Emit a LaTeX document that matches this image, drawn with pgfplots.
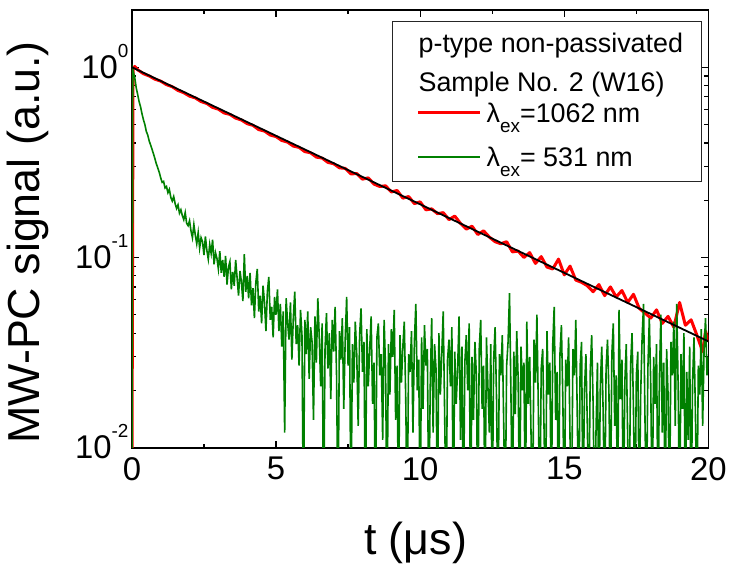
\documentclass[border=0pt]{standalone}
\usepackage{fontspec}
\setmainfont{Liberation Sans}
\usepackage{pgfplots}
\pgfplotsset{compat=1.18}
\definecolor{dgreen}{RGB}{0,128,0}
\newcommand{\tk}{\fontsize{33}{36}\selectfont}
\newcommand{\lgf}{\fontsize{27}{30}\selectfont}
\newcommand{\ds}[1]{10\smash{\raisebox{21bp}{\fontsize{19}{20}\selectfont #1}}}
\newcommand{\exs}{\smash{\raisebox{-10bp}{\fontsize{19}{20}\selectfont ex}}}
\begin{document}
\begin{tikzpicture}
\begin{axis}[
  at={(0,0)}, anchor=south west,
  scale only axis, width=577bp, height=438bp,
  ymode=log, xmin=0, xmax=20, ymin=0.01, ymax=2,
  xtick={0,5,10,15,20}, xticklabels={0,5,10,15,20},
  minor xtick={2.5,7.5,12.5,17.5},
  ytick={0.01,0.1,1}, yticklabels={\ds{-2},\ds{-1},\ds{0}},
  minor ytick={0.02,0.03,0.04,0.05,0.06,0.07,0.08,0.09,0.2,0.3,0.4,0.5,0.6,0.7,0.8,0.9},
  tick align=inside,
  major tick length=7bp, minor tick length=4bp,
  every tick/.style={black, line width=1.2bp},
  axis line style={line width=1.8bp},
  tick label style={font=\tk},
  xticklabel style={yshift=-6bp},
  xlabel={t (μs)}, ylabel={MW-PC signal (a.u.)},
  xlabel style={at={(axis description cs:0.492,-0.217)}, anchor=center, font=\fontsize{45}{50}\selectfont},
  ylabel style={at={(axis description cs:-0.180,0.469)}, anchor=center, font=\fontsize{45}{50}\selectfont},
]
\addplot[red, line width=3bp, line join=round] coordinates {
(0,0.005) (0.04,0.98) (0.1,1.01) (0.2,0.97) (0.4,0.925) (0.6,0.9) (0.8,0.865) (1.0,0.845)
(1.2,0.81) (1.4,0.79) (1.6,0.755) (1.8,0.735) (2.0,0.705) (2.2,0.69) (2.4,0.66) (2.6,0.645)
(2.8,0.615) (3.0,0.602) (3.2,0.575) (3.4,0.565) (3.6,0.54) (3.8,0.528) (4.0,0.505) (4.2,0.495)
(4.4,0.47) (4.6,0.462) (4.8,0.44) (5.0,0.432) (5.2,0.412) (5.4,0.404) (5.6,0.385) (5.8,0.379)
(6.0,0.36) (6.2,0.355) (6.4,0.337) (6.6,0.333) (6.8,0.316) (7.0,0.311) (7.2,0.296) (7.4,0.294)
(7.6,0.275) (7.8,0.276) (8.0,0.258) (8.2,0.262) (8.4,0.243) (8.6,0.236) (8.8,0.238) (9.0,0.221)
(9.2,0.225) (9.4,0.205) (9.6,0.209) (9.8,0.192) (10.0,0.196) (10.2,0.178) (10.4,0.18) (10.6,0.17)
(10.8,0.172) (11.0,0.158) (11.2,0.165) (11.4,0.151) (11.6,0.141) (11.8,0.146) (12.0,0.132) (12.2,0.138)
(12.4,0.128) (12.6,0.121) (12.8,0.118) (13.0,0.121) (13.2,0.107) (13.4,0.108) (13.6,0.1) (13.8,0.106)
(14.0,0.093) (14.2,0.101) (14.4,0.089) (14.6,0.087) (14.8,0.098) (15.0,0.081) (15.2,0.09) (15.4,0.076)
(15.6,0.074) (15.8,0.071) (16.0,0.066) (16.2,0.072) (16.4,0.063) (16.6,0.07) (16.8,0.062) (17.0,0.067)
(17.2,0.058) (17.4,0.064) (17.6,0.054) (17.8,0.051) (18.0,0.048) (18.2,0.053) (18.4,0.045) (18.6,0.049)
(18.8,0.043) (19.0,0.058) (19.2,0.044) (19.4,0.047) (19.6,0.039) (19.8,0.032) (19.9,0.041) (20.0,0.036)
};
\addplot[dgreen, line width=1.6bp] coordinates {
(0,0.005) (0.03,0.97) (0.06,0.93) (0.1,0.88) (0.15,0.78) (0.2,0.72) (0.25,0.66) (0.3,0.62)
(0.35,0.57) (0.4,0.53) (0.45,0.5) (0.5,0.46) (0.55,0.44) (0.6,0.41) (0.65,0.39) (0.7,0.37)
(0.75,0.35) (0.8,0.33) (0.85,0.31) (0.9,0.295) (0.95,0.28) (1.0,0.262)
(1.05,0.248) (1.1,0.251) (1.15,0.232) (1.2,0.236) (1.25,0.219) (1.3,0.228) (1.35,0.207) (1.4,0.198)
(1.45,0.209) (1.5,0.192) (1.55,0.181) (1.6,0.189) (1.65,0.171) (1.7,0.178) (1.75,0.166) (1.8,0.158)
(1.85,0.172) (1.9,0.151) (1.95,0.147) (2.0,0.156) (2.05,0.138) (2.1,0.127) (2.15,0.149) (2.2,0.131)
(2.25,0.118) (2.3,0.135) (2.35,0.112) (2.4,0.127) (2.45,0.121) (2.5,0.103) (2.55,0.129) (2.6,0.109)
(2.65,0.098) (2.7,0.117) (2.75,0.105) (2.8,0.124) (2.85,0.092) (2.9,0.106) (2.95,0.099) (3.0,0.087)
(3.05,0.108) (3.1,0.083) (3.15,0.097) (3.2,0.079) (3.25,0.102) (3.3,0.072) (3.35,0.089) (3.4,0.095)
(3.45,0.068) (3.5,0.084) (3.55,0.071) (3.6,0.097) (3.65,0.078) (3.7,0.063) (3.75,0.085) (3.8,0.074)
(3.85,0.059) (3.9,0.104) (3.95,0.066) (4.0,0.08) (4.05,0.061) (4.1,0.083) (4.15,0.056) (4.2,0.069)
(4.25,0.048) (4.3,0.074) (4.35,0.087) (4.4,0.052) (4.45,0.063) (4.5,0.045) (4.55,0.071) (4.6,0.058)
(4.65,0.041) (4.7,0.066) (4.75,0.079) (4.8,0.047) (4.85,0.055) (4.9,0.038) (4.95,0.062) (5.0,0.05)
(5.05,0.068) (5.1,0.041) (5.15,0.057) (5.2,0.034) (5.25,0.052) (5.3,0.012) (5.35,0.061) (5.4,0.046)
(5.45,0.037) (5.5,0.058) (5.55,0.029) (5.6,0.048) (5.65,0.066) (5.7,0.035) (5.75,0.044) (5.8,0.027)
(5.85,0.053) (5.9,0.039) (5.95,0.004) (6.0,0.047) (6.05,0.031) (6.1,0.052) (6.15,0.023) (6.2,0.043)
(6.25,0.036) (6.3,0.014) (6.35,0.049) (6.4,0.028) (6.45,0.061) (6.5,0.038) (6.55,0.021) (6.6,0.045)
(6.65,0.004) (6.7,0.033) (6.75,0.051) (6.8,0.026) (6.85,0.04) (6.9,0.018) (6.95,0.047) (7.0,0.032)
(7.05,0.055) (7.1,0.024) (7.15,0.004) (7.2,0.041) (7.25,0.029) (7.3,0.048) (7.35,0.016) (7.4,0.037)
(7.45,0.062) (7.5,0.027) (7.55,0.043) (7.6,0.004) (7.65,0.035) (7.7,0.022) (7.75,0.046) (7.8,0.031)
(7.85,0.013) (7.9,0.039) (7.95,0.054) (8.0,0.025) (8.05,0.036) (8.1,0.004) (8.15,0.042) (8.2,0.021)
(8.25,0.033) (8.3,0.049) (8.35,0.017) (8.4,0.028) (8.45,0.004) (8.5,0.038) (8.55,0.045) (8.6,0.024)
(8.65,0.031) (8.7,0.011) (8.75,0.047) (8.8,0.026) (8.85,0.004) (8.9,0.035) (8.95,0.019) (9.0,0.042)
(9.05,0.03) (9.1,0.053) (9.15,0.014) (9.2,0.027) (9.25,0.004) (9.3,0.039) (9.35,0.022) (9.4,0.034)
(9.45,0.046) (9.5,0.018) (9.55,0.004) (9.6,0.031) (9.65,0.025) (9.7,0.041) (9.75,0.012) (9.8,0.036)
(9.85,0.057) (9.9,0.02) (9.95,0.029) (10.0,0.004) (10.05,0.038) (10.1,0.016) (10.15,0.044) (10.2,0.027)
(10.25,0.033) (10.3,0.004) (10.35,0.021) (10.4,0.048) (10.45,0.012) (10.5,0.035) (10.55,0.026) (10.6,0.004)
(10.65,0.04) (10.7,0.019) (10.75,0.031) (10.8,0.052) (10.85,0.015) (10.9,0.004) (10.95,0.029) (11.0,0.037)
(11.05,0.021) (11.1,0.043) (11.15,0.004) (11.2,0.032) (11.25,0.017) (11.3,0.026) (11.35,0.049) (11.4,0.011)
(11.45,0.034) (11.5,0.004) (11.55,0.028) (11.6,0.039) (11.65,0.02) (11.7,0.045) (11.75,0.004) (11.8,0.03)
(11.85,0.014) (11.9,0.036) (11.95,0.024) (12.0,0.004) (12.05,0.033) (12.1,0.047) (12.15,0.016) (12.2,0.027)
(12.25,0.004) (12.3,0.038) (12.35,0.021) (12.4,0.012) (12.45,0.035) (12.5,0.004) (12.55,0.029) (12.6,0.043)
(12.65,0.018) (12.7,0.004) (12.75,0.031) (12.8,0.024) (12.85,0.039) (12.9,0.013) (12.95,0.004) (13.0,0.027)
(13.05,0.036) (13.1,0.065) (13.15,0.019) (13.2,0.004) (13.25,0.032) (13.3,0.015) (13.35,0.041) (13.4,0.023)
(13.45,0.004) (13.5,0.034) (13.55,0.02) (13.6,0.028) (13.65,0.004) (13.7,0.046) (13.75,0.017) (13.8,0.03)
(13.85,0.011) (13.9,0.004) (13.95,0.037) (14.0,0.022) (14.05,0.05) (14.1,0.016) (14.15,0.004) (14.2,0.026)
(14.25,0.033) (14.3,0.012) (14.35,0.004) (14.4,0.041) (14.45,0.019) (14.5,0.028) (14.55,0.004) (14.6,0.035)
(14.65,0.055) (14.7,0.014) (14.75,0.025) (14.8,0.004) (14.85,0.031) (14.9,0.044) (14.95,0.018) (15.0,0.004)
(15.05,0.029) (15.1,0.021) (15.15,0.038) (15.2,0.011) (15.25,0.004) (15.3,0.033) (15.35,0.024) (15.4,0.047)
(15.45,0.015) (15.5,0.004) (15.55,0.027) (15.6,0.036) (15.65,0.004) (15.7,0.02) (15.75,0.031) (15.8,0.013)
(15.85,0.004) (15.9,0.025) (15.95,0.039) (16.0,0.017) (16.05,0.004) (16.1,0.012) (16.15,0.028) (16.2,0.004)
(16.25,0.021) (16.3,0.034) (16.35,0.015) (16.4,0.004) (16.45,0.026) (16.5,0.037) (16.55,0.019) (16.6,0.004)
(16.65,0.031) (16.7,0.045) (16.75,0.013) (16.8,0.024) (16.85,0.004) (16.9,0.053) (16.95,0.018) (17.0,0.029)
(17.05,0.004) (17.1,0.022) (17.15,0.035) (17.2,0.011) (17.25,0.004) (17.3,0.027) (17.35,0.04) (17.4,0.016)
(17.45,0.004) (17.5,0.024) (17.55,0.032) (17.6,0.004) (17.65,0.019) (17.7,0.038) (17.75,0.057) (17.8,0.014)
(17.85,0.004) (17.9,0.026) (17.95,0.048) (18.0,0.021) (18.05,0.004) (18.1,0.03) (18.15,0.017) (18.2,0.035)
(18.25,0.004) (18.3,0.023) (18.35,0.05) (18.4,0.012) (18.45,0.028) (18.5,0.004) (18.55,0.033) (18.6,0.019)
(18.65,0.004) (18.7,0.036) (18.75,0.024) (18.8,0.046) (18.85,0.013) (18.9,0.057) (18.95,0.021) (19.0,0.004)
(19.05,0.031) (19.1,0.016) (19.15,0.04) (19.2,0.004) (19.25,0.025) (19.3,0.011) (19.35,0.034) (19.4,0.004)
(19.45,0.022) (19.5,0.038) (19.55,0.015) (19.6,0.004) (19.65,0.027) (19.7,0.019) (19.75,0.042) (19.8,0.013)
(19.85,0.033) (19.9,0.048) (19.95,0.024) (20.0,0.03)
};
\addplot[black, line width=1.8bp] coordinates {(0,1.0) (20,0.0362)};
\draw[black!85, line width=1bp, fill=white] (rel axis cs:0.452,0.607) rectangle (rel axis cs:0.988,0.973);
\node[anchor=base west, inner sep=0, font=\lgf] at (rel axis cs:0.497,0.902) {p-type non-passivated};
\node[anchor=base west, inner sep=0, font=\lgf] at (rel axis cs:0.497,0.813) {Sample No. 2 (W16)};
\draw[red, line width=3bp] (rel axis cs:0.497,0.765) -- (rel axis cs:0.603,0.765);
\node[anchor=base west, inner sep=0, font=\lgf] at (rel axis cs:0.615,0.744) {λ\exs=1062 nm};
\draw[dgreen, line width=1.6bp] (rel axis cs:0.497,0.664) -- (rel axis cs:0.603,0.664);
\node[anchor=base west, inner sep=0, font=\lgf] at (rel axis cs:0.615,0.642) {λ\exs= 531 nm};
\end{axis}
\path (-132bp,-123bp) rectangle (598bp,448bp);
\end{tikzpicture}
\end{document}
